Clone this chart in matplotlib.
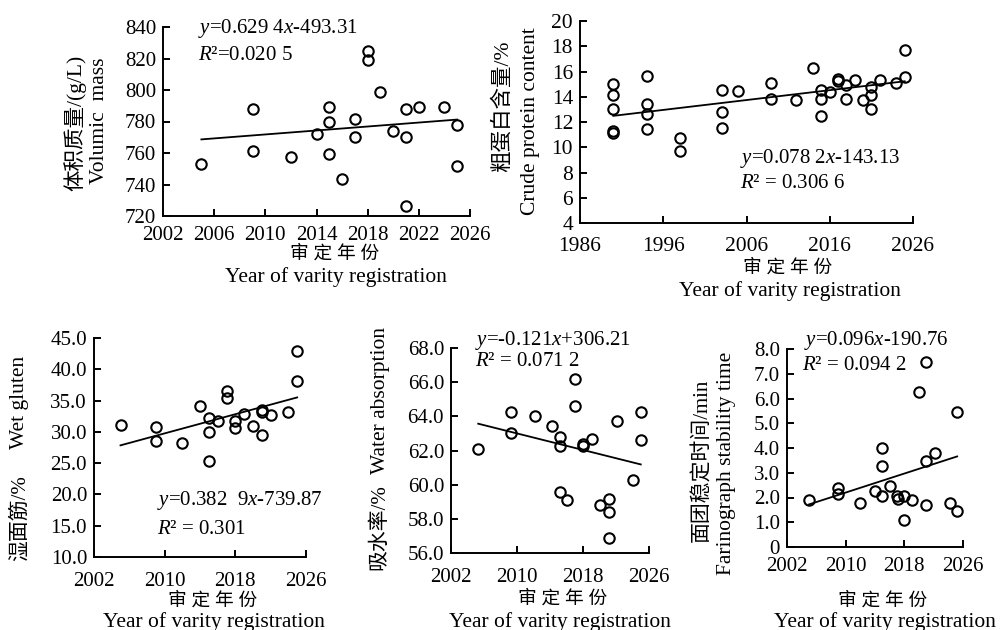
import matplotlib
matplotlib.use("Agg")
import matplotlib.pyplot as plt
from matplotlib.ticker import FuncFormatter
import numpy as np

plt.rcParams["font.family"] = ["Liberation Serif", "Noto Sans CJK SC"]
plt.rcParams["mathtext.fontset"] = "custom"
plt.rcParams["mathtext.rm"] = "Liberation Serif"
plt.rcParams["mathtext.it"] = "Liberation Serif:italic"

# volumic mass (g/L)
vol_years = [2005, 2009, 2009, 2012, 2014, 2015, 2015, 2015, 2016, 2017, 2017,
             2018, 2018, 2019, 2020, 2021, 2021, 2021, 2022, 2024, 2025, 2025]
vol_mass = [753, 788, 761.5, 757.5, 772, 789, 779.5, 759.5, 743.5, 781.5, 770,
            824.5, 819, 798.5, 774, 788, 770, 726.5, 789, 789, 777.5, 752]
vol_fit = (0.6294, -493.31)

# crude protein content (%)
prot_years = [1990, 1990, 1990, 1990, 1990, 1994, 1994, 1994, 1994, 1998, 1998,
              2003, 2003, 2003, 2005, 2009, 2009, 2012, 2014, 2015, 2015, 2015,
              2016, 2017, 2017, 2018, 2018, 2019, 2020, 2021, 2021, 2021, 2022,
              2024, 2025, 2025]
prot_vals = [15.0, 14.1, 13.0, 11.25, 11.15, 15.65, 13.45, 12.6, 11.45, 10.7, 9.7,
             14.5, 12.8, 11.5, 14.45, 15.1, 13.85, 13.75, 16.3, 14.5, 13.85, 12.45,
             14.4, 15.4, 15.25, 14.9, 13.85, 15.3, 13.75, 14.75, 14.1, 13.05, 15.3,
             15.05, 17.7, 15.55]
prot_fit = (0.0782, -143.13)

# wet gluten (%)
glu_years = [2005, 2009, 2009, 2012, 2014, 2015, 2015, 2015, 2016, 2017, 2017,
             2018, 2018, 2019, 2020, 2021, 2021, 2021, 2022, 2024, 2025, 2025]
glu_vals = [31.15, 30.8, 28.5, 28.2, 34.1, 32.2, 29.9, 25.3, 31.7, 36.5, 35.4,
            31.8, 30.6, 32.9, 30.9, 33.5, 33.1, 29.55, 32.75, 33.2, 43.0, 38.2]
glu_fit = (0.3829, -739.87)

# water absorption (%)
wat_years = [2005.3, 2009.3, 2009.3, 2012.2, 2014.3, 2015.2, 2015.2, 2015.2, 2016.1,
             2017, 2017, 2018, 2018, 2019.1, 2020.1, 2021.1, 2021.1, 2021.1, 2022.1,
             2024, 2025, 2025]
wat_vals = [62.06, 64.23, 63.03, 64.0, 63.42, 62.8, 62.25, 59.57, 59.1,
            66.2, 64.58, 62.4, 62.25, 62.7, 58.8, 59.18, 58.4, 56.9, 63.7,
            60.3, 64.23, 62.6]
wat_fit = (-0.121, 306.21)

# farinograph stability time (min)
stab_years = [2005, 2009, 2009, 2012, 2014, 2015, 2015, 2015, 2016, 2017, 2017.1,
              2018, 2018, 2019, 2020, 2021, 2021, 2021, 2022.2, 2024.2, 2025.2, 2025.2]
stab_vals = [1.91, 2.4, 2.16, 1.78, 2.25, 4.0, 3.26, 2.08, 2.47, 2.06, 1.95,
             2.06, 1.1, 1.91, 6.27, 7.49, 3.47, 1.71, 3.8, 1.78, 5.46, 1.44]
stab_fit = (0.096, -190.76)

XLABEL_CN = "审 定 年 份"
XLABEL_EN = "Year of varity registration"

W, H = 1007, 630
fig = plt.figure(figsize=(W / 100, H / 100), dpi=100)


def fx(x):
    return x / W


def fy(y):
    return 1 - y / H


def panel(box, years, vals, fit, xlim, xticks, ylim, yticks, yfmt, fs=15, xpad=7.5):
    l, t, r, b = box
    ax = fig.add_axes([fx(l), fy(b), (r - l) / W, (b - t) / H])
    ax.plot(years, vals, "o", mfc="none", mec="black", ms=7.5, mew=1.5,
            clip_on=False, zorder=3)
    xs = np.array([min(years), max(years)])
    ax.plot(xs, fit[0] * xs + fit[1], color="black", lw=1.3)
    ax.set_xlim(*xlim)
    ax.set_ylim(*ylim)
    ax.set_xticks(xticks)
    ax.set_yticks(yticks)
    ax.yaxis.set_major_formatter(FuncFormatter(yfmt))
    for s in ("top", "right"):
        ax.spines[s].set_visible(False)
    for s in ("left", "bottom"):
        ax.spines[s].set_linewidth(1.4)
    ax.tick_params(direction="in", length=5, width=1.4, labelsize=fs)
    ax.tick_params(axis="y", pad=5)
    ax.tick_params(axis="x", pad=xpad)
    return ax


def txt(x, y, s, fs=15, **kw):
    fig.text(fx(x), fy(y), s, fontsize=fs, va="center", **kw)


def xlabels(x_cn, y_cn, x_en, y_en):
    txt(x_cn, y_cn, XLABEL_CN, fs=13.5, ha="center")
    txt(x_en, y_en, XLABEL_EN, fs=15.5, ha="center")


int_fmt = lambda v, p: f"{v:.0f}"
one_fmt = lambda v, p: "0" if v == 0 else f"{v:.1f}"

# top left: volumic mass
panel((163, 27, 470, 216), vol_years, vol_mass, vol_fit, (2002, 2026),
      range(2002, 2027, 4), (720, 840), range(720, 841, 20), int_fmt, xpad=7.5)
txt(198, 29, "$y$=0.629 4$x$-493.31")
txt(198, 55, "$R$²=0.020 5")
txt(75, 123, "体积质量/(g/L)", fs=15.5, rotation=90, ha="center")
txt(100, 121, "Volumic  mass", fs=15.5, rotation=90, ha="center")
xlabels(335, 254, 336, 277)

# top right: crude protein
panel((580, 21, 913, 223), prot_years, prot_vals, prot_fit, (1986, 2026),
      range(1986, 2027, 10), (4, 20), range(4, 21, 2), int_fmt, fs=15.5, xpad=10)
txt(740, 158, "$y$=0.078 2$x$-143.13")
txt(740, 183, "$R$² = 0.306 6")
txt(503, 106, "粗蛋白含量/%", fs=15.5, rotation=90, ha="center")
txt(530, 121, "Crude protein content", fs=15.5, rotation=90, ha="center")
xlabels(788, 268, 790, 291)

# bottom left: wet gluten
panel((94, 338, 306, 557), glu_years, glu_vals, glu_fit, (2002, 2026),
      [2002, 2010, 2018, 2026], (10, 45), range(10, 46, 5), one_fmt, xpad=11)
txt(157, 500, "$y$=0.382  9$x$-739.87")
txt(157, 530, "$R$² = 0.301")
txt(20, 518, "湿面筋/%", fs=15, rotation=90, ha="center")
txt(20, 402, "Wet gluten", fs=15.5, rotation=90, ha="center")
xlabels(213, 601, 214, 622)

# bottom middle: water absorption
panel((451, 348, 649, 553), wat_years, wat_vals, wat_fit, (2002, 2026),
      [2002, 2010, 2018, 2026], (56, 68), range(56, 69, 2), one_fmt, xpad=10.5)
txt(475, 340, "$y$=-0.121$x$+306.21")
txt(475, 361, "$R$² = 0.071 2")
txt(380, 527, "吸水率/%", fs=15, rotation=90, ha="center")
txt(381, 401, "Water absorption", fs=15.5, rotation=90, ha="center")
xlabels(563, 599, 560, 622)

# bottom right: stability time
panel((787, 349, 963, 547), stab_years, stab_vals, stab_fit, (2002, 2026),
      [2002, 2010, 2018, 2026], (0, 8), range(0, 9), one_fmt, xpad=7.5)
txt(804, 340, "$y$=0.096$x$-190.76")
txt(802, 365, "$R$² = 0.094 2")
txt(702, 460, "面团稳定时间/min", fs=15, rotation=90, ha="center")
txt(727, 463, "Farinograph stability time", fs=15.5, rotation=90, ha="center")
xlabels(883, 601, 885, 622)

fig.savefig("out.png", dpi=100)
